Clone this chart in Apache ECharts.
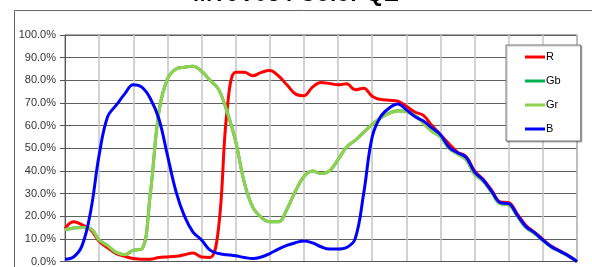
<!DOCTYPE html>
<html lang="en">
<head>
    <meta charset="UTF-8">
    <title>QE curve</title>
    <script type="text/javascript" src="https://cdn.jsdelivr.net/npm/echarts@6/dist/echarts.min.js"></script>
    <style>
        html, body { margin: 0; padding: 0; background: #fff; }
    </style>
</head>
<body>
<div id="main" style="width: 592px;height:267px;"></div>
<script type="text/javascript">
    // wavelength (nm), 5 nm steps
    var wavelengths = [];
    for (var w = 400; w <= 700; w += 5) wavelengths.push(w);

    var valR = [14.5, 17.5, 16.2, 14, 9, 6, 3.5, 2.3, 1.3, 1, 1, 1.8, 2, 2.3, 3, 3.8, 2, 1.8, 15, 67,
        83.5, 83.5, 82, 83.5, 84.3, 82, 78, 74, 73.2, 77, 79, 78.6, 78, 78.5, 75.8, 76.5, 73, 71.5, 71.2, 70.8,
        68.5, 66, 64.5, 60, 56, 52, 48.3, 46.3, 40, 36.3, 31.5, 26.3, 26, 21, 16, 13, 9.8, 6.7, 4.7, 2.6, 0];
    var valGb = [14, 14.8, 15, 14.5, 9.5, 7, 4, 3, 5, 5.5, 30, 66, 80.5, 85, 85.8, 86.2, 84, 80, 76, 66,
        53, 35, 24, 19.5, 17.5, 17.5, 23, 31, 37.5, 40, 38.8, 40, 45, 50.5, 53.5, 57, 60.5, 63.5, 65.5, 66.6,
        66.2, 64.5, 61.2, 57.5, 55, 50, 47.5, 45, 38.5, 35.5, 30.5, 25.5, 25, 20, 15, 12.5, 9.3, 6.3, 4.4, 2.4, 0];
    var valGr = [14, 14.8, 15, 14.5, 9.5, 7, 4, 3, 5, 5.5, 30, 66, 80.5, 85, 85.8, 86.2, 84, 80, 76, 66,
        53, 35, 24, 19.5, 17.5, 17.5, 23, 31, 37.5, 40, 38.8, 40, 45, 50.5, 53.5, 57, 60.5, 63.5, 65.3, 66.4,
        66, 64.5, 61, 57.5, 55, 50, 47.5, 45, 38.5, 35.5, 30.5, 25.5, 25, 20, 15, 12.5, 9.3, 6.3, 4.4, 2.4, 0];
    var valB = [1, 2, 7, 22, 47, 64, 69, 74, 78, 77, 72, 63, 47, 31, 20, 13, 9.5, 5, 3.5, 3,
        2.5, 1.8, 1.3, 2, 3.5, 5.5, 7.1, 8.3, 9, 8.2, 6.5, 5.5, 5.5, 6.2, 10, 30, 55, 64, 67.8, 69.5,
        67, 64, 62, 59, 56, 50.5, 48, 46, 39.5, 36, 31, 26, 25.5, 20.5, 15.5, 12.8, 9.5, 6.5, 4.5, 2.5, 0];

    var seriesNames = ['R', 'Gb', 'Gr', 'B'];
    var seriesColors = ['#ff0000', '#00b050', '#92d050', '#0000ff'];
    var seriesValues = [valR, valGb, valGr, valB];

    function pairs(vals) {
        return wavelengths.map(function (w, i) { return [w, vals[i]]; });
    }

    var series = seriesNames.map(function (name, k) {
        return {
            name: name,
            type: 'line',
            smooth: 0.4,
            symbol: 'none',
            color: seriesColors[k],
            lineStyle: { width: 3, color: seriesColors[k] },
            data: pairs(seriesValues[k])
        };
    });

    var option = {
        animation: false,
        textStyle: { fontFamily: 'Liberation Sans, Arial, sans-serif' },
        graphic: [
            {
                type: 'rect',
                shape: { x: 14.5, y: 10.5, width: 620, height: 320 },
                style: { fill: 'none', stroke: '#666', lineWidth: 1 },
                silent: true
            },
            {
                type: 'text',
                left: 'center',
                top: -17,
                style: {
                    text: 'MT9V034 Color QE',
                    font: 'bold 23px Liberation Sans, Arial, sans-serif',
                    fill: '#000'
                }
            }
        ],
        legend: {
            orient: 'vertical',
            left: 506,
            top: 45,
            width: 75,
            padding: [5, 20, 5, 19],
            itemGap: 10,
            itemWidth: 20,
            itemHeight: 3,
            icon: 'rect',
            backgroundColor: '#fff',
            borderColor: '#777',
            borderWidth: 1,
            shadowColor: 'rgba(0,0,0,0.25)',
            shadowOffsetX: 1,
            shadowOffsetY: 1,
            shadowBlur: 1,
            textStyle: { fontSize: 11, lineHeight: 14, color: '#000', padding: [0, 0, 0, -4] },
            data: seriesNames
        },
        grid: {
            left: 65,
            right: 15,
            top: 35,
            bottom: 4,
            show: true,
            borderColor: '#555',
            borderWidth: 1
        },
        xAxis: {
            type: 'value',
            min: 400,
            max: 700,
            interval: 20,
            axisLabel: { show: false },
            axisTick: { show: false },
            axisLine: { show: true, lineStyle: { color: '#555' } },
            splitLine: { show: true, lineStyle: { color: '#c4c4c4', width: 1.5 } }
        },
        yAxis: {
            type: 'value',
            min: 0,
            max: 100,
            interval: 10,
            axisLine: { show: true, lineStyle: { color: '#555' } },
            axisTick: { show: true, length: 5, lineStyle: { color: '#555' } },
            axisLabel: {
                fontSize: 11,
                color: '#333',
                margin: 9,
                formatter: function (v) { return v.toFixed(1) + '%'; }
            },
            splitLine: { show: true, lineStyle: { color: '#606060', width: 1 } }
        },
        series: series
    };

    var myChart = echarts.init(document.getElementById('main'));
    myChart.setOption(option);
</script>
</body>
</html>
